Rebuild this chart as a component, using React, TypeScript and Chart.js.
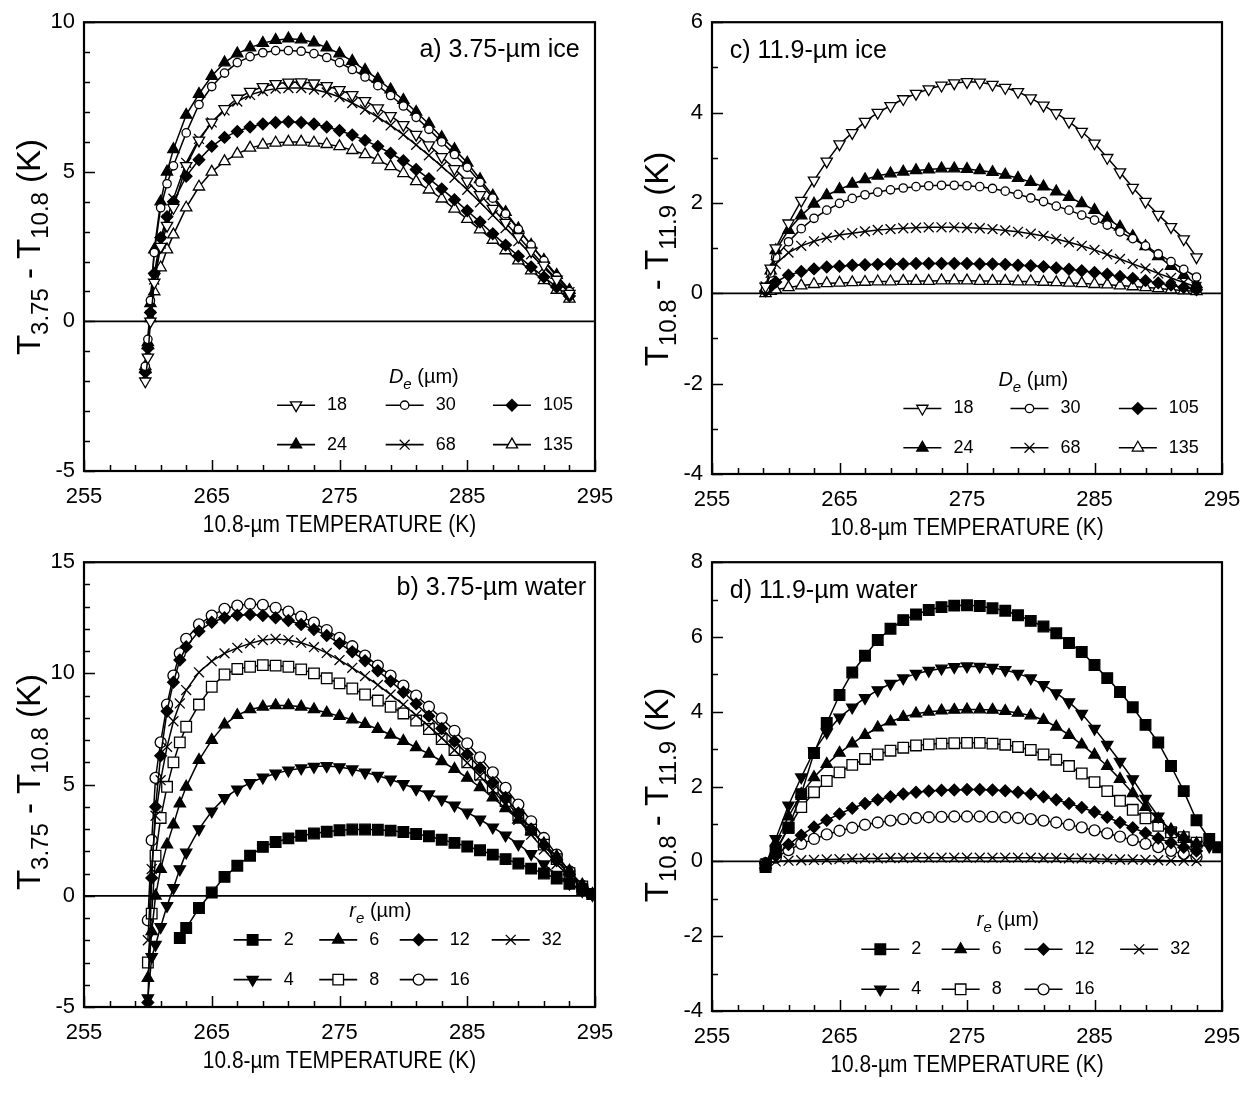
import React, { useEffect, useRef } from 'react';
import { Chart, registerables } from 'chart.js';
import { drawPoint } from 'chart.js/helpers';

Chart.register(...registerables);

const FONT = '"Liberation Sans", Arial, Helvetica, sans-serif';

// ---------------- Panel a: 3.75-um ice ----------------
const xA = [259.8, 260, 260.2, 260.5, 261, 261.5, 262, 263, 264, 265, 266, 267, 268, 269, 270, 271, 272, 273, 274, 275, 276, 277, 278, 279, 280, 281, 282, 283, 284, 285, 286, 287, 288, 289, 290, 291, 292, 293];
const a18 = [-2.0, -1.2, 0.0, 1.3, 2.5, 3.2, 3.8, 5.2, 6.05, 6.65, 7.1, 7.45, 7.68, 7.84, 7.94, 7.99, 8.0, 7.96, 7.87, 7.74, 7.57, 7.37, 7.13, 6.87, 6.57, 6.24, 5.89, 5.5, 5.1, 4.68, 4.23, 3.77, 3.3, 2.83, 2.35, 1.87, 1.4, 0.93];
const a24 = [-1.6, -0.7, 0.6, 2.4, 4.0, 5.0, 5.75, 6.9, 7.6, 8.2, 8.65, 8.95, 9.15, 9.3, 9.4, 9.45, 9.42, 9.32, 9.15, 8.95, 8.7, 8.4, 8.1, 7.75, 7.4, 7.0, 6.6, 6.15, 5.75, 5.3, 4.75, 4.2, 3.65, 3.1, 2.55, 2.05, 1.55, 1.05];
const a30 = [-1.5, -0.6, 0.7, 2.3, 3.8, 4.6, 5.2, 6.3, 7.25, 7.85, 8.3, 8.65, 8.85, 8.98, 9.05, 9.05, 9.03, 8.95, 8.82, 8.65, 8.42, 8.17, 7.88, 7.55, 7.2, 6.82, 6.42, 6.0, 5.58, 5.15, 4.65, 4.12, 3.6, 3.08, 2.55, 2.03, 1.5, 1.0];
const a68 = [-1.8, -1.0, 0.2, 1.4, 2.6, 3.4, 4.1, 5.3, 6.1, 6.65, 7.05, 7.35, 7.57, 7.7, 7.78, 7.8, 7.8, 7.75, 7.65, 7.5, 7.3, 7.08, 6.83, 6.55, 6.24, 5.9, 5.55, 5.18, 4.8, 4.4, 3.98, 3.55, 3.12, 2.68, 2.24, 1.8, 1.38, 0.98];
const a105 = [-1.7, -0.9, 0.3, 1.6, 2.8, 3.5, 4.0, 4.85, 5.4, 5.85, 6.15, 6.35, 6.5, 6.6, 6.65, 6.67, 6.65, 6.6, 6.5, 6.38, 6.23, 6.05, 5.85, 5.62, 5.37, 5.08, 4.77, 4.43, 4.07, 3.7, 3.32, 2.93, 2.55, 2.18, 1.82, 1.48, 1.15, 0.85];
const a135 = [-1.5, -0.8, 0.1, 1.0, 1.8, 2.4, 2.9, 3.8, 4.5, 5.0, 5.35, 5.6, 5.8, 5.9, 5.97, 6.0, 6.0, 5.97, 5.92, 5.85, 5.72, 5.58, 5.4, 5.18, 4.95, 4.68, 4.4, 4.1, 3.76, 3.42, 3.07, 2.72, 2.37, 2.03, 1.7, 1.37, 1.05, 0.75];

// ---------------- Panel b: 3.75-um water ----------------
const xB = [260, 260.3, 260.6, 261, 261.5, 262, 262.5, 263, 264, 265, 266, 267, 268, 269, 270, 271, 272, 273, 274, 275, 276, 277, 278, 279, 280, 281, 282, 283, 284, 285, 286, 287, 288, 289, 290, 291, 292, 293, 294, 294.8];
const b2 = [null, null, null, null, null, null, -1.9, -1.45, -0.55, 0.15, 0.85, 1.35, 1.8, 2.2, 2.42, 2.58, 2.7, 2.8, 2.88, 2.95, 2.98, 2.98, 2.97, 2.93, 2.87, 2.78, 2.68, 2.52, 2.38, 2.22, 2.05, 1.85, 1.65, 1.45, 1.22, 1.0, 0.78, 0.54, 0.3, 0.08];
const b4 = [-4.6, -2.75, -2.2, -1.4, -0.45, 0.35, 1.2, 1.95, 3.0, 3.8, 4.4, 4.78, 5.08, 5.32, 5.5, 5.64, 5.74, 5.81, 5.84, 5.79, 5.69, 5.55, 5.4, 5.23, 5.03, 4.8, 4.57, 4.33, 4.06, 3.75, 3.43, 3.08, 2.72, 2.32, 1.88, 1.42, 0.95, 0.55, 0.22, 0.04];
const b6 = [-3.7, -1.6, 0.0, 1.2, 2.3, 3.2, 4.15, 4.9, 6.1, 7.0, 7.7, 8.12, 8.38, 8.5, 8.56, 8.56, 8.5, 8.38, 8.23, 8.08, 7.92, 7.72, 7.5, 7.24, 6.96, 6.67, 6.38, 6.05, 5.7, 5.3, 4.88, 4.42, 3.93, 3.42, 2.9, 2.35, 1.78, 1.12, 0.5, 0.08];
const b8 = [-3.0, -0.8, 1.8, 3.5, 4.9, 6.0, 6.9, 7.6, 8.6, 9.4, 9.95, 10.2, 10.3, 10.37, 10.35, 10.3, 10.18, 10.0, 9.78, 9.55, 9.32, 9.05, 8.78, 8.5, 8.2, 7.88, 7.5, 7.05, 6.55, 6.0, 5.45, 4.87, 4.26, 3.62, 2.97, 2.3, 1.65, 1.02, 0.42, 0.08];
const b12 = [-4.8, 0.8, 4.0, 6.3, 8.3, 9.6, 10.6, 11.2, 11.9, 12.3, 12.5, 12.62, 12.65, 12.6, 12.5, 12.38, 12.2, 11.97, 11.7, 11.35, 10.97, 10.57, 10.12, 9.65, 9.15, 8.63, 8.08, 7.52, 6.95, 6.37, 5.75, 5.1, 4.42, 3.72, 3.0, 2.28, 1.58, 0.95, 0.4, 0.07];
const b16 = [-1.1, 2.5, 5.3, 6.9, 8.6, 9.9, 10.9, 11.55, 12.2, 12.6, 12.9, 13.05, 13.12, 13.08, 12.95, 12.78, 12.55, 12.28, 11.95, 11.6, 11.22, 10.8, 10.35, 9.9, 9.45, 9.0, 8.5, 7.98, 7.42, 6.85, 6.22, 5.55, 4.85, 4.1, 3.35, 2.6, 1.85, 1.1, 0.45, 0.08];
const b32 = [-2.0, 1.2, 3.6, 5.2, 6.7, 7.85, 8.65, 9.25, 10.05, 10.55, 10.9, 11.15, 11.35, 11.5, 11.55, 11.5, 11.38, 11.18, 10.92, 10.6, 10.25, 9.88, 9.48, 9.05, 8.6, 8.12, 7.62, 7.1, 6.55, 5.98, 5.38, 4.75, 4.1, 3.42, 2.75, 2.08, 1.43, 0.85, 0.35, 0.06];

// ---------------- Panel c: 11.9-um ice ----------------
const xC = [259.2, 259.6, 260, 261, 262, 263, 264, 265, 266, 267, 268, 269, 270, 271, 272, 273, 274, 275, 276, 277, 278, 279, 280, 281, 282, 283, 284, 285, 286, 287, 288, 289, 290, 291, 292, 293];
const c18 = [0.15, 0.55, 1.0, 1.55, 2.05, 2.5, 2.92, 3.3, 3.55, 3.8, 4.0, 4.15, 4.3, 4.42, 4.52, 4.6, 4.65, 4.68, 4.67, 4.62, 4.55, 4.46, 4.32, 4.16, 3.99, 3.8, 3.58, 3.32, 3.0, 2.68, 2.34, 2.03, 1.74, 1.47, 1.2, 0.8];
const c24 = [0.1, 0.5, 0.95, 1.4, 1.72, 1.98, 2.17, 2.3, 2.42, 2.52, 2.6, 2.65, 2.69, 2.72, 2.74, 2.76, 2.76, 2.75, 2.72, 2.68, 2.62, 2.55, 2.46, 2.36, 2.25, 2.13, 1.99, 1.84, 1.66, 1.47, 1.26, 1.04, 0.82, 0.6, 0.4, 0.2];
const c30 = [0.1, 0.45, 0.8, 1.14, 1.43, 1.66, 1.84, 1.99, 2.1, 2.18, 2.24, 2.29, 2.33, 2.36, 2.38, 2.39, 2.39, 2.38, 2.36, 2.32, 2.26, 2.19, 2.11, 2.03, 1.93, 1.84, 1.73, 1.62, 1.51, 1.36, 1.21, 1.05, 0.87, 0.7, 0.53, 0.36];
const c68 = [0.15, 0.45, 0.65, 0.9, 1.05, 1.15, 1.23, 1.29, 1.33, 1.37, 1.4, 1.42, 1.44, 1.45, 1.46, 1.46, 1.46, 1.45, 1.44, 1.42, 1.39, 1.36, 1.32, 1.27, 1.2, 1.13, 1.05, 0.96, 0.86, 0.76, 0.65, 0.55, 0.44, 0.34, 0.24, 0.14];
const c105 = [0.05, 0.15, 0.25, 0.4, 0.48, 0.54, 0.58, 0.6, 0.62, 0.63, 0.64, 0.65, 0.65, 0.66, 0.66, 0.66, 0.66, 0.66, 0.65, 0.65, 0.64, 0.62, 0.61, 0.59, 0.56, 0.53, 0.5, 0.46, 0.42, 0.37, 0.33, 0.28, 0.23, 0.18, 0.13, 0.08];
const c135 = [0.0, 0.05, 0.08, 0.13, 0.17, 0.2, 0.22, 0.23, 0.24, 0.25, 0.26, 0.26, 0.27, 0.27, 0.27, 0.28, 0.28, 0.28, 0.27, 0.27, 0.27, 0.26, 0.26, 0.25, 0.24, 0.23, 0.22, 0.2, 0.19, 0.17, 0.15, 0.13, 0.11, 0.08, 0.06, 0.04];

// ---------------- Panel d: 11.9-um water ----------------
const xD = [259.2, 260, 261, 262, 263, 264, 265, 266, 267, 268, 269, 270, 271, 272, 273, 274, 275, 276, 277, 278, 279, 280, 281, 282, 283, 284, 285, 286, 287, 288, 289, 290, 291, 292, 293, 294, 294.7];
const d2 = [-0.15, 0.25, 0.9, 1.8, 2.9, 3.7, 4.45, 5.05, 5.5, 5.92, 6.22, 6.45, 6.6, 6.72, 6.8, 6.84, 6.85, 6.83, 6.77, 6.7, 6.58, 6.43, 6.28, 6.1, 5.84, 5.6, 5.25, 4.9, 4.53, 4.12, 3.65, 3.18, 2.55, 1.88, 1.1, 0.6, 0.38];
const d4 = [-0.1, 0.6, 1.5, 2.25, 2.95, 3.45, 3.85, 4.12, 4.37, 4.58, 4.75, 4.9, 5.02, 5.1, 5.16, 5.2, 5.22, 5.21, 5.18, 5.12, 5.02, 4.9, 4.72, 4.5, 4.26, 3.95, 3.55, 3.12, 2.67, 2.2, 1.68, 1.2, 0.8, 0.58, 0.45, 0.4, null];
const d6 = [-0.1, 0.5, 1.2, 1.8, 2.25, 2.6, 2.9, 3.15, 3.38, 3.58, 3.74, 3.86, 3.95, 4.0, 4.03, 4.05, 4.06, 4.06, 4.05, 4.02, 3.97, 3.9, 3.78, 3.6, 3.38, 3.12, 2.85, 2.55, 2.2, 1.82, 1.45, 1.13, 0.85, 0.65, 0.48, null, null];
const d8 = [-0.1, 0.3, 0.9, 1.45, 1.85, 2.15, 2.38, 2.58, 2.74, 2.86, 2.96, 3.04, 3.1, 3.13, 3.15, 3.16, 3.17, 3.17, 3.15, 3.12, 3.06, 2.98, 2.86, 2.72, 2.55, 2.35, 2.12, 1.88, 1.62, 1.38, 1.15, 0.95, 0.78, 0.65, 0.5, null, null];
const d12 = [-0.05, 0.15, 0.45, 0.7, 0.92, 1.1, 1.27, 1.42, 1.55, 1.65, 1.73, 1.8, 1.85, 1.88, 1.9, 1.91, 1.92, 1.92, 1.91, 1.89, 1.85, 1.8, 1.73, 1.65, 1.55, 1.44, 1.32, 1.18, 1.04, 0.9, 0.76, 0.62, 0.5, 0.38, 0.28, null, null];
const d16 = [-0.05, 0.1, 0.3, 0.47, 0.6, 0.72, 0.82, 0.9, 0.98, 1.04, 1.09, 1.13, 1.16, 1.18, 1.19, 1.2, 1.2, 1.2, 1.19, 1.18, 1.16, 1.13, 1.09, 1.04, 0.98, 0.91, 0.83, 0.75, 0.66, 0.57, 0.47, 0.38, 0.28, 0.2, 0.12, null, null];
const d32 = [-0.05, 0.0, 0.02, 0.03, 0.04, 0.05, 0.06, 0.07, 0.08, 0.08, 0.09, 0.09, 0.1, 0.1, 0.1, 0.1, 0.1, 0.1, 0.1, 0.1, 0.1, 0.1, 0.09, 0.09, 0.08, 0.08, 0.07, 0.06, 0.05, 0.05, 0.04, 0.03, 0.02, 0.02, 0.01, null, null];

// ---------------- axes ----------------
const X_TICKS = [255, 265, 275, 285, 295];
const X_TITLE = '10.8-\u00b5m TEMPERATURE (K)';
const yTicksA = [-5, 0, 5, 10];
const yTicksB = [-5, 0, 5, 10, 15];
const yTicksC = [-4, -2, 0, 2, 4, 6];
const yTicksD = [-4, -2, 0, 2, 4, 6, 8];

type Mk = 'triDownOpen' | 'triDownFill' | 'triUpOpen' | 'triUpFill' | 'circleOpen' | 'circleSmall' | 'cross' | 'diamondFill' | 'squareFill' | 'squareOpen';
const MARKERS: Record<Mk, { pointStyle: string; rotation: number; fill: boolean; radius: number }> = {
  triDownOpen: { pointStyle: 'triangle', rotation: 180, fill: false, radius: 6.5 },
  triDownFill: { pointStyle: 'triangle', rotation: 180, fill: true, radius: 6.5 },
  triUpOpen: { pointStyle: 'triangle', rotation: 0, fill: false, radius: 6.5 },
  triUpFill: { pointStyle: 'triangle', rotation: 0, fill: true, radius: 6.5 },
  circleOpen: { pointStyle: 'circle', rotation: 0, fill: false, radius: 5.5 },
  circleSmall: { pointStyle: 'circle', rotation: 0, fill: false, radius: 4.2 },
  cross: { pointStyle: 'crossRot', rotation: 0, fill: false, radius: 7 },
  diamondFill: { pointStyle: 'rectRot', rotation: 0, fill: true, radius: 5.8 },
  squareFill: { pointStyle: 'rect', rotation: 0, fill: true, radius: 7.5 },
  squareOpen: { pointStyle: 'rect', rotation: 0, fill: false, radius: 7.5 },
};

interface Series { label: string; ys: (number | null)[]; mk: Mk; lx: number; row: number }
interface PanelCfg {
  left: number; top: number; w: number; h: number;
  pl: number; pr: number; pt: number; pb: number;
  xs: number[]; series: Series[];
  yMin: number; yMax: number; yTicks: number[];
  tag: string; tagX: number; tagY: number; tagAlign: 'left' | 'right';
  yTitle: [string, string, string, string]; yTitleCy: number;
  legItalic: string; legX: number; legY: number; legRows: number[];
}

const PANELS: PanelCfg[] = [
  {
    left: 0, top: 0, w: 630, h: 545, pl: 84, pr: 595, pt: 17, pb: 471,
    xs: xA,
    series: [
      { label: '18', ys: a18, mk: 'triDownOpen', lx: 271.6, row: 0 },
      { label: '30', ys: a30, mk: 'circleSmall', lx: 280.1, row: 0 },
      { label: '105', ys: a105, mk: 'diamondFill', lx: 288.5, row: 0 },
      { label: '24', ys: a24, mk: 'triUpFill', lx: 271.6, row: 1 },
      { label: '68', ys: a68, mk: 'cross', lx: 280.1, row: 1 },
      { label: '135', ys: a135, mk: 'triUpOpen', lx: 288.5, row: 1 },
    ],
    yMin: -5, yMax: 10, yTicks: yTicksA,
    tag: 'a) 3.75-\u00b5m ice', tagX: 293.8, tagY: 9.07, tagAlign: 'right',
    yTitle: ['T', '3.75', ' - T', '10.8'], yTitleCy: 247,
    legItalic: 'D', legX: 281.6, legY: -1.87, legRows: [-2.8, -4.12],
  },
  {
    left: 630, top: 0, w: 629, h: 545, pl: 82, pr: 592, pt: 17, pb: 474,
    xs: xC,
    series: [
      { label: '18', ys: c18, mk: 'triDownOpen', lx: 271.5, row: 0 },
      { label: '30', ys: c30, mk: 'circleSmall', lx: 279.9, row: 0 },
      { label: '105', ys: c105, mk: 'diamondFill', lx: 288.4, row: 0 },
      { label: '24', ys: c24, mk: 'triUpFill', lx: 271.5, row: 1 },
      { label: '68', ys: c68, mk: 'cross', lx: 279.9, row: 1 },
      { label: '135', ys: c135, mk: 'triUpOpen', lx: 288.4, row: 1 },
    ],
    yMin: -4, yMax: 6, yTicks: yTicksC,
    tag: 'c) 11.9-\u00b5m ice', tagX: 256.4, tagY: 5.35, tagAlign: 'left',
    yTitle: ['T', '10.8', ' - T', '11.9'], yTitleCy: 259,
    legItalic: 'D', legX: 280.2, legY: -1.93, legRows: [-2.55, -3.42],
  },
  {
    left: 0, top: 540, w: 630, h: 553, pl: 84, pr: 595, pt: 17, pb: 467,
    xs: xB,
    series: [
      { label: '2', ys: b2, mk: 'squareFill', lx: 268.2, row: 0 },
      { label: '6', ys: b6, mk: 'triUpFill', lx: 274.9, row: 0 },
      { label: '12', ys: b12, mk: 'diamondFill', lx: 281.2, row: 0 },
      { label: '32', ys: b32, mk: 'cross', lx: 288.4, row: 0 },
      { label: '4', ys: b4, mk: 'triDownFill', lx: 268.2, row: 1 },
      { label: '8', ys: b8, mk: 'squareOpen', lx: 274.9, row: 1 },
      { label: '16', ys: b16, mk: 'circleOpen', lx: 281.2, row: 1 },
    ],
    yMin: -5, yMax: 15, yTicks: yTicksB,
    tag: 'b) 3.75-\u00b5m water', tagX: 294.3, tagY: 13.83, tagAlign: 'right',
    yTitle: ['T', '3.75', ' - T', '10.8'], yTitleCy: 242,
    legItalic: 'r', legX: 278.2, legY: -0.67, legRows: [-1.98, -3.77],
  },
  {
    left: 630, top: 540, w: 629, h: 553, pl: 82, pr: 592, pt: 21, pb: 471,
    xs: xD,
    series: [
      { label: '2', ys: d2, mk: 'squareFill', lx: 268.2, row: 0 },
      { label: '6', ys: d6, mk: 'triUpFill', lx: 274.5, row: 0 },
      { label: '12', ys: d12, mk: 'diamondFill', lx: 281.0, row: 0 },
      { label: '32', ys: d32, mk: 'cross', lx: 288.5, row: 0 },
      { label: '4', ys: d4, mk: 'triDownFill', lx: 268.2, row: 1 },
      { label: '8', ys: d8, mk: 'squareOpen', lx: 274.5, row: 1 },
      { label: '16', ys: d16, mk: 'circleOpen', lx: 281.0, row: 1 },
    ],
    yMin: -4, yMax: 8, yTicks: yTicksD,
    tag: 'd) 11.9-\u00b5m water', tagX: 256.4, tagY: 7.22, tagAlign: 'left',
    yTitle: ['T', '10.8', ' - T', '11.9'], yTitleCy: 255,
    legItalic: 'r', legX: 278.2, legY: -1.58, legRows: [-2.35, -3.42],
  },
];

function setMarkerStyle(ctx: CanvasRenderingContext2D, mk: Mk) {
  const m = MARKERS[mk];
  ctx.fillStyle = m.fill ? '#000' : '#fff';
  ctx.strokeStyle = '#000';
  ctx.lineWidth = 1.3;
}

function makePlugin(cfg: PanelCfg) {
  return {
    id: 'deco',
    beforeDatasetsDraw(chart: any) {
      const { ctx, chartArea: a, scales } = chart;
      const y0 = scales.y.getPixelForValue(0);
      ctx.save();
      ctx.strokeStyle = '#000';
      ctx.lineWidth = 1.8;
      ctx.beginPath();
      ctx.moveTo(a.left, y0);
      ctx.lineTo(a.right, y0);
      ctx.stroke();
      ctx.restore();
    },
    afterDraw(chart: any) {
      const { ctx, chartArea: a, scales } = chart;
      const xs = scales.x, ys = scales.y;
      ctx.save();
      ctx.strokeStyle = '#000';
      ctx.lineWidth = 2.2;
      ctx.strokeRect(a.left, a.top, a.right - a.left, a.bottom - a.top);
      // inward ticks
      ctx.lineWidth = 1.5;
      ctx.beginPath();
      for (let v = cfg.yMin; v <= cfg.yMax; v += 1) {
        const py = Math.round(ys.getPixelForValue(v)) + 0.5;
        const len = cfg.yTicks.includes(v) ? 11 : 6;
        ctx.moveTo(a.left, py);
        ctx.lineTo(a.left + len, py);
      }
      for (let v = 255; v <= 295; v += 2) {
        const px = Math.round(xs.getPixelForValue(v)) + 0.5;
        const len = X_TICKS.includes(v) ? 11 : 6;
        ctx.moveTo(px, a.bottom);
        ctx.lineTo(px, a.bottom - len);
      }
      ctx.stroke();

      // panel tag
      ctx.fillStyle = '#000';
      ctx.font = `25px ${FONT}`;
      ctx.textBaseline = 'middle';
      ctx.textAlign = cfg.tagAlign;
      ctx.fillText(cfg.tag, xs.getPixelForValue(cfg.tagX), ys.getPixelForValue(cfg.tagY));

      // x title (slightly condensed, like the original typeface)
      ctx.save();
      ctx.translate((a.left + a.right) / 2, a.bottom + 55);
      ctx.scale(0.91, 1);
      ctx.textAlign = 'center';
      ctx.font = `23px ${FONT}`;
      ctx.fillText(X_TITLE, 0, 0);
      ctx.restore();

      // y title with subscripts
      const main = 33, sub = 24;
      const parts: [string, boolean][] = [
        [cfg.yTitle[0], false], [cfg.yTitle[1], true], [cfg.yTitle[2], false], [cfg.yTitle[3], true], [' (K)', false],
      ];
      let total = 0;
      for (const [t, s] of parts) {
        ctx.font = `${s ? sub : main}px ${FONT}`;
        total += ctx.measureText(t).width;
      }
      ctx.save();
      ctx.translate(a.left - 56, cfg.yTitleCy);
      ctx.rotate(-Math.PI / 2);
      ctx.textAlign = 'left';
      ctx.textBaseline = 'alphabetic';
      let cx = -total / 2;
      for (const [t, s] of parts) {
        ctx.font = `${s ? sub : main}px ${FONT}`;
        ctx.fillText(t, cx, s ? 20 : 12);
        cx += ctx.measureText(t).width;
      }
      ctx.restore();

      // legend header
      const hx = xs.getPixelForValue(cfg.legX);
      const hy = ys.getPixelForValue(cfg.legY);
      const f1 = `italic 20px ${FONT}`, f2 = `italic 15px ${FONT}`, f3 = `20px ${FONT}`;
      ctx.font = f1; const w1 = ctx.measureText(cfg.legItalic).width;
      ctx.font = f2; const w2 = ctx.measureText('e').width;
      ctx.font = f3; const w3 = ctx.measureText(' (\u00b5m)').width;
      let hx0 = hx - (w1 + w2 + w3) / 2;
      ctx.textAlign = 'left';
      ctx.textBaseline = 'alphabetic';
      ctx.font = f1; ctx.fillText(cfg.legItalic, hx0, hy + 6); hx0 += w1;
      ctx.font = f2; ctx.fillText('e', hx0, hy + 12); hx0 += w2;
      ctx.font = f3; ctx.fillText(' (\u00b5m)', hx0, hy + 6);

      // legend items
      for (const s of cfg.series) {
        const mx = xs.getPixelForValue(s.lx);
        const my = ys.getPixelForValue(cfg.legRows[s.row]);
        ctx.strokeStyle = '#000';
        ctx.lineWidth = 1.6;
        ctx.beginPath();
        ctx.moveTo(mx - 19, my);
        ctx.lineTo(mx + 19, my);
        ctx.stroke();
        setMarkerStyle(ctx, s.mk);
        const m = MARKERS[s.mk];
        drawPoint(ctx, { pointStyle: m.pointStyle as any, rotation: m.rotation, radius: m.radius, borderWidth: 1.3 } as any, mx, my);
        ctx.fillStyle = '#000';
        ctx.font = `18px ${FONT}`;
        ctx.textBaseline = 'middle';
        ctx.fillText(s.label, mx + 31, my);
      }
      ctx.restore();
    },
  };
}

function Panel({ cfg }: { cfg: PanelCfg }) {
  const ref = useRef<HTMLCanvasElement>(null);
  useEffect(() => {
    const canvas = ref.current;
    if (!canvas) return;
    const datasets = cfg.series.map((s) => {
      const m = MARKERS[s.mk];
      const data = cfg.xs
        .map((x, i) => (s.ys[i] === null || s.ys[i] === undefined ? null : { x, y: s.ys[i] as number }))
        .filter((p) => p !== null);
      return {
        label: s.label,
        data,
        borderColor: '#000',
        borderWidth: 1.5,
        pointStyle: m.pointStyle,
        pointRotation: m.rotation,
        pointRadius: m.radius,
        pointBackgroundColor: m.fill ? '#000' : '#fff',
        pointBorderColor: '#000',
        pointBorderWidth: 1.3,
        tension: 0,
        fill: false,
      };
    });
    const chart = new Chart(canvas, {
      type: 'line',
      data: { datasets } as any,
      options: {
        responsive: false,
        maintainAspectRatio: false,
        devicePixelRatio: 1,
        animation: false,
        events: [],
        layout: { padding: { top: cfg.pt, right: cfg.w - cfg.pr, left: 0, bottom: 0 } },
        plugins: { legend: { display: false }, tooltip: { enabled: false } },
        scales: {
          x: {
            type: 'linear', min: 255, max: 295,
            grid: { display: false, drawTicks: false },
            border: { display: false },
            ticks: { font: { family: FONT, size: 22 }, color: '#000', padding: 13, maxRotation: 0, autoSkip: false },
            afterBuildTicks: (s: any) => { s.ticks = X_TICKS.map((v) => ({ value: v })); },
            afterFit: (s: any) => { s.height = cfg.h - cfg.pb; },
          },
          y: {
            type: 'linear', min: cfg.yMin, max: cfg.yMax,
            grid: { display: false, drawTicks: false },
            border: { display: false },
            ticks: { font: { family: FONT, size: 22 }, color: '#000', padding: 9, autoSkip: false },
            afterBuildTicks: (s: any) => { s.ticks = cfg.yTicks.map((v) => ({ value: v })); },
            afterFit: (s: any) => { s.width = cfg.pl; },
          },
        },
      } as any,
      plugins: [makePlugin(cfg)],
    });
    return () => chart.destroy();
  }, [cfg]);
  return (
    <canvas
      ref={ref}
      width={cfg.w}
      height={cfg.h}
      style={{ position: 'absolute', left: cfg.left, top: cfg.top, width: cfg.w, height: cfg.h }}
    />
  );
}

export default function App() {
  return (
    <div style={{ position: 'absolute', left: 0, top: 0, width: 1259, height: 1093, background: '#fff' }}>
      {PANELS.map((p, i) => (
        <Panel key={i} cfg={p} />
      ))}
    </div>
  );
}
